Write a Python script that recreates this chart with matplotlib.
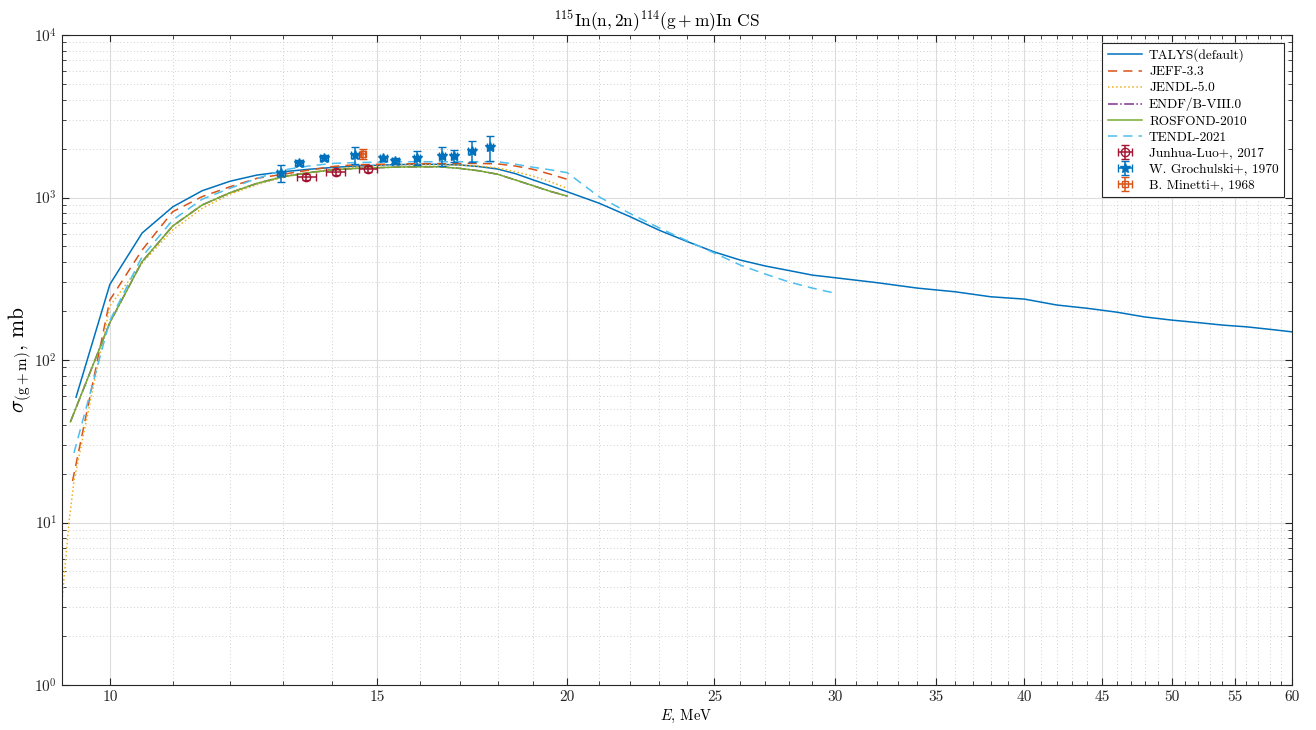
import numpy as np
import matplotlib
matplotlib.use("Agg")
import matplotlib.pyplot as plt
from matplotlib.ticker import FixedLocator, NullFormatter, FixedFormatter

plt.rcParams['font.family'] = ['cmr10', 'DejaVu Serif']
plt.rcParams['mathtext.fontset'] = 'cm'
plt.rcParams['axes.formatter.use_mathtext'] = True

# ---------------- data ----------------
E_talys = [9.5, 10, 10.5, 11, 11.5, 12, 12.5, 13, 13.5, 14, 14.5, 15, 15.5, 16, 16.5, 17, 17.5, 18,
           18.5, 19, 19.5, 20, 21, 22, 23, 24, 25, 26, 27, 28, 29, 30, 32, 34, 36, 38, 40, 42, 44, 46,
           48, 50, 52, 54, 56, 58, 60]
cs_talys = [59, 292, 604, 876, 1100, 1260, 1375, 1440, 1490, 1530, 1560, 1580, 1595, 1600, 1600, 1585,
            1550, 1497, 1400, 1282, 1180, 1085, 921, 762, 628, 535, 462, 412, 379, 355, 333, 321, 299,
            277, 263, 245, 237, 218, 208, 197, 184, 176, 170, 164, 160, 154.5, 149]

E_jeff = [9.45, 10, 10.5, 11, 11.5, 12, 12.5, 13, 13.5, 14, 14.5, 15, 15.5, 16, 16.5, 17, 17.5, 18,
          18.5, 19, 19.5, 20]
cs_jeff = [18, 234, 475, 818, 1012, 1165, 1313, 1390, 1470, 1550, 1590, 1600, 1610, 1615, 1615, 1620,
           1620, 1610, 1560, 1490, 1390, 1294]

E_jendl = [9.3, 9.4, 9.47, 10, 10.5, 11, 11.5, 12, 12.5, 13, 13.5, 14, 14.5, 15, 15.5, 16, 16.5, 17,
           17.5, 18, 18.5, 19, 19.5, 20]
cs_jendl = [3.3, 10.1, 18, 215, 395, 631, 857, 1050, 1200, 1330, 1420, 1490, 1540, 1570, 1585, 1590,
            1590, 1580, 1560, 1520, 1440, 1350, 1250, 1140]

E_rosfond = [9.42, 10, 10.5, 11, 11.5, 12, 12.5, 13, 13.5, 14, 14.5, 15, 15.5, 16, 16.5, 17, 17.5, 18,
             18.5, 19, 19.5, 20]
cs_rosfond = [41.7, 170, 403, 668, 899, 1071, 1223, 1343, 1420, 1476, 1510, 1525, 1540, 1545, 1545,
              1510, 1460, 1390, 1280, 1180, 1090, 1021]
E_endf = E_rosfond
cs_endf = cs_rosfond

E_tendl = [9.47, 10, 10.5, 11, 11.5, 12, 12.5, 13, 13.5, 14, 14.5, 15, 15.5, 16, 16.5, 17, 17.5, 18,
           18.5, 19, 19.5, 20, 21, 22, 23, 24, 25, 26, 27, 28, 29, 30]
cs_tendl = [26.8, 175, 432, 727, 975, 1140, 1310, 1476, 1560, 1620, 1640, 1650, 1660, 1660, 1660, 1660,
            1660, 1660, 1600, 1535, 1480, 1422, 1007, 797, 649, 540, 455, 384, 338, 302, 277, 258]

E_luo = [13.47, 14.08, 14.78]
cs_luo = [1331, 1429, 1490]
dE_luo = [0.2, 0.2, 0.2]
dcs_luo = [55, 60, 62]

E_gro = [12.96, 13.32, 13.84, 14.5, 15.13, 15.41, 15.93, 16.55, 16.85, 17.3, 17.8]
cs_gro = [1422, 1637, 1758, 1827, 1742, 1686, 1758, 1800, 1810, 1941, 2036]
dE_gro = [0.08] * 11
dcs_gro = [170, 60, 60, 210, 70, 60, 170, 245, 150, 290, 350]

E_min = [14.68]
cs_min = [1850]
dE_min = [0.05]
dcs_min = [130]

x_ticks = [10, 15, 20, 25, 30, 35, 40, 45, 50, 55, 60]
x_ticklabels = ['10', '15', '20', '25', '30', '35', '40', '45', '50', '55', '60']
y_ticks = [1, 10, 100, 1000, 10000]
y_ticklabels = [r'$10^{0}$', r'$10^{1}$', r'$10^{2}$', r'$10^{3}$', r'$10^{4}$']

# ---------------- plot ----------------
c_blue = '#0072BD'
c_orange = '#D95319'
c_yellow = '#EDB120'
c_purple = '#7E2F8E'
c_green = '#77AC30'
c_lblue = '#4DBEEE'
c_red = '#A2142F'

fig = plt.figure(figsize=(13.16, 7.30), dpi=100)
ax = fig.add_axes([62 / 1316, 1 - 685 / 730, (1292 - 62) / 1316, (685 - 35) / 730])

ax.plot(E_talys, cs_talys, '-', color=c_blue, lw=1.1, label='TALYS(default)')
ax.plot(E_jeff, cs_jeff, '--', color=c_orange, lw=1.1, label='JEFF-3.3', dashes=(6, 4))
ax.plot(E_jendl, cs_jendl, ':', color=c_yellow, lw=1.1, label='JENDL-5.0')
ax.plot(E_endf, cs_endf, '-.', color=c_purple, lw=1.1, label='ENDF/B-VIII.0')
ax.plot(E_rosfond, cs_rosfond, '-', color=c_green, lw=1.1, label='ROSFOND-2010')
ax.plot(E_tendl, cs_tendl, '--', color=c_lblue, lw=1.1, label='TENDL-2021', dashes=(6, 4))

ax.errorbar(E_luo, cs_luo, xerr=dE_luo, yerr=dcs_luo, fmt='o', color=c_red, mfc='none',
            ms=6, capsize=3, elinewidth=1.1, lw=1.1, label='Junhua-Luo+, 2017')
ax.errorbar(E_gro, cs_gro, xerr=dE_gro, yerr=dcs_gro, fmt='*', color=c_blue,
            ms=7, capsize=3, elinewidth=1.1, lw=1.1, label='W. Grochulski+, 1970')
ax.errorbar(E_min, cs_min, xerr=dE_min, yerr=dcs_min, fmt='s', color=c_orange, mfc='none',
            ms=4, capsize=3, elinewidth=1.1, lw=1.1, label='B. Minetti+, 1968')

ax.set_xscale('log')
ax.set_yscale('log')
ax.set_xlim(9.3, 60)
ax.set_ylim(1, 1e4)

ax.xaxis.set_major_locator(FixedLocator(x_ticks))
ax.xaxis.set_major_formatter(FixedFormatter(x_ticklabels))
ax.xaxis.set_minor_locator(FixedLocator([v for v in range(10, 61) if v not in x_ticks]))
ax.xaxis.set_minor_formatter(NullFormatter())
ax.yaxis.set_major_locator(FixedLocator(y_ticks))
ax.yaxis.set_major_formatter(FixedFormatter(y_ticklabels))
ax.yaxis.set_minor_locator(FixedLocator([m * 10.0 ** d for d in range(0, 4) for m in range(2, 10)]))
ax.yaxis.set_minor_formatter(NullFormatter())

ax.tick_params(which='both', direction='in', top=True, right=True, colors='#262626', labelsize=11)
ax.tick_params(which='major', length=5, width=0.8)
ax.tick_params(which='minor', length=3, width=0.6)

ax.grid(True, which='major', color='#dcdcdc', lw=0.8, ls='-')
ax.grid(True, which='minor', color='#cfcfcf', lw=0.7, ls=(0, (1, 2.5)))
ax.set_axisbelow(True)
for s in ax.spines.values():
    s.set_color('#262626')
    s.set_linewidth(0.8)

ax.set_xlabel(r'$E$, MeV', fontsize=10.5, labelpad=3, x=0.507)
ax.set_ylabel(r'$\sigma_{\mathrm{(g+m)}}$, mb', fontsize=15.5, labelpad=0)
ax.set_title(r'$^{115}\mathrm{In}(\mathrm{n},2\mathrm{n})^{114}(\mathrm{g}+\mathrm{m})\mathrm{In\ CS}$',
             fontsize=12.5, pad=6, x=0.484)

leg = ax.legend(loc='upper right', fontsize=9.6, frameon=True, fancybox=False,
                edgecolor='#262626', framealpha=1, borderaxespad=0.6, handlelength=2.6,
                labelspacing=0.28, borderpad=0.4, handletextpad=0.5)
leg.get_frame().set_linewidth(0.8)

fig.savefig('out.png', dpi=100)
